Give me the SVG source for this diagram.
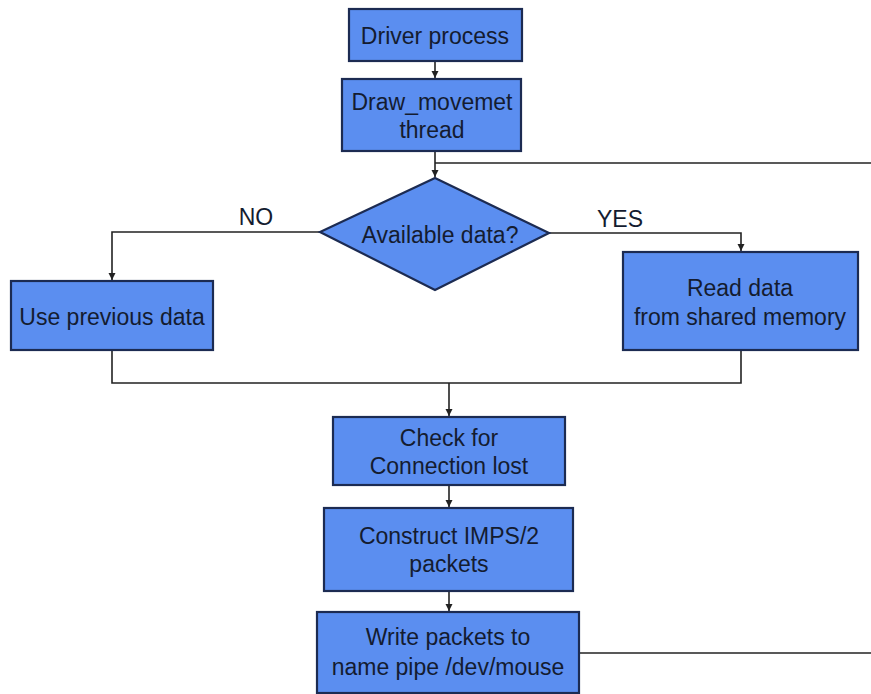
<svg xmlns="http://www.w3.org/2000/svg" width="871" height="694" viewBox="0 0 871 694">
<style>
.box{fill:#5b8ef0;stroke:#1c2b52;stroke-width:2.2}
.t{font-family:"Liberation Sans",Arial,sans-serif;font-size:23px;fill:#141c30;text-anchor:middle}
.c{fill:none;stroke:#222;stroke-width:1.6}
</style>
<defs>
<marker id="ah" markerWidth="8" markerHeight="8" refX="7" refY="4" orient="auto" markerUnits="userSpaceOnUse">
<path d="M0,0.5 L7,4 L0,7.5 Z" fill="#222"/>
</marker>
</defs>
<rect width="871" height="694" fill="#fff"/>
<g id="connectors">
<line class="c" x1="435" y1="61" x2="435" y2="78" marker-end="url(#ah)"/>
<line class="c" x1="435" y1="151" x2="435" y2="177" marker-end="url(#ah)"/>
<line class="c" x1="435" y1="163" x2="871" y2="163"/>
<polyline class="c" points="320,232 112,232 112,280" marker-end="url(#ah)"/>
<polyline class="c" points="549,233 741,233 741,251" marker-end="url(#ah)"/>
<polyline class="c" points="112,350 112,383 741,383 741,350"/>
<line class="c" x1="449" y1="383" x2="449" y2="416" marker-end="url(#ah)"/>
<line class="c" x1="449" y1="485" x2="449" y2="507" marker-end="url(#ah)"/>
<line class="c" x1="449" y1="591" x2="449" y2="611" marker-end="url(#ah)"/>
<line class="c" x1="579" y1="653" x2="871" y2="653"/>
<text class="t" x="256" y="225">NO</text>
<text class="t" x="620" y="227">YES</text>
</g>
<g id="driver">
<rect class="box" x="349" y="9" width="173" height="52"/>
<text class="t" x="435" y="44">Driver process</text>
</g>
<g id="draw">
<rect class="box" x="342" y="79" width="179" height="72"/>
<text class="t" x="432" y="110">Draw_movemet</text>
<text class="t" x="432" y="138">thread</text>
</g>
<g id="decision">
<polygon class="box" points="435,178 549,233 435,290 320,232"/>
<text class="t" x="440" y="243">Available data?</text>
</g>
<g id="useprev">
<rect class="box" x="11" y="281" width="202" height="69"/>
<text class="t" x="112" y="325">Use previous data</text>
</g>
<g id="readdata">
<rect class="box" x="623" y="252" width="235" height="98"/>
<text class="t" x="740" y="296">Read data</text>
<text class="t" x="740" y="325">from shared memory</text>
</g>
<g id="check">
<rect class="box" x="333" y="417" width="232" height="68"/>
<text class="t" x="449" y="446">Check for</text>
<text class="t" x="449" y="474">Connection lost</text>
</g>
<g id="construct">
<rect class="box" x="324" y="508" width="249" height="83"/>
<text class="t" x="449" y="544">Construct IMPS/2</text>
<text class="t" x="449" y="572">packets</text>
</g>
<g id="write">
<rect class="box" x="317" y="612" width="262" height="81"/>
<text class="t" x="448" y="645">Write packets to</text>
<text class="t" x="448" y="675">name pipe /dev/mouse</text>
</g>
</svg>
